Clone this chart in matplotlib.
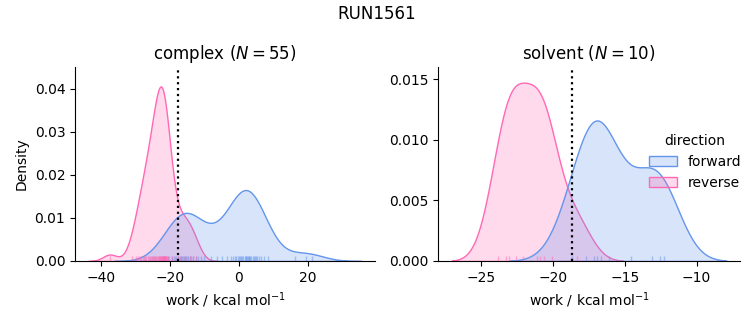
import numpy as np
import pandas as pd
import matplotlib
matplotlib.use("Agg")
import matplotlib.pyplot as plt
import seaborn as sns
from matplotlib.patches import Patch
from matplotlib.colors import to_rgba

# ---- data (work values, kcal/mol) ----
complex_forward = [
    -22.0, -20.5, -19.5, -18.8, -18.2, -17.7, -17.2, -16.8, -16.4, -16.0,
    -15.6, -15.2, -14.8, -14.3, -13.8, -13.2, -12.5, -11.8, -11.0, -10.0,
    -8.0, -6.4, -5.0, -3.5,
    -2.2, -1.6, -1.1, -0.7, -0.3, 0.1, 0.4, 0.7, 1.0, 1.3,
    1.8, 2.0, 2.2, 2.4, 2.6, 2.9, 3.1, 3.4, 3.7,
    4.0, 4.3, 4.6, 5.0, 5.4, 5.9, 6.5, 7.3, 8.5,
    16.3, 19.4, 21.4,
]
complex_reverse = [
    -37.4, -31.0, -29.9, -29.2, -28.7, -28.3, -27.9, -27.5, -27.2, -26.9,
    -26.5, -26.2, -25.9, -25.6, -25.3, -25.0, -24.8, -24.6, -24.4, -24.2,
    -23.9, -23.7, -23.5, -23.3, -23.1, -22.9, -22.8, -22.6, -22.5, -22.4,
    -22.3, -22.1, -22.0, -21.8, -21.7, -21.6, -21.5, -21.4, -21.3, -21.2,
    -21.1, -21.0, -20.8, -20.6, -20.4, -19.3, -18.4, -17.6, -17.0, -16.3,
    -15.6, -15.0, -14.2, -13.3, -12.4,
]
solvent_forward = [-18.7, -17.72, -17.13, -16.97, -16.7, -16.1, -14.55, -13.1, -12.58, -12.27]
solvent_reverse = [-23.87, -23.26, -23.05, -22.6, -22.1, -21.1, -20.9, -20.65, -20.07, -18.35]

phases = ["complex", "solvent"]
directions = ["forward", "reverse"]
free_energy = {"complex": -17.6, "solvent": -18.7}
x_ticks = {"complex": [-40, -20, 0, 20], "solvent": [-25, -20, -15, -10]}
y_ticks = {"complex": [0.00, 0.01, 0.02, 0.03, 0.04],
           "solvent": [0.000, 0.005, 0.010, 0.015]}
y_lims = {"complex": 0.045, "solvent": 0.016}
colors = {"forward": "cornflowerblue", "reverse": "hotpink"}

rows = []
for ph, d, vals in [("complex", "forward", complex_forward),
                    ("complex", "reverse", complex_reverse),
                    ("solvent", "forward", solvent_forward),
                    ("solvent", "reverse", solvent_reverse)]:
    for v in vals:
        rows.append({"work": v, "direction": d, "phase": ph})
df = pd.DataFrame(rows)

g = sns.displot(data=df, x="work", hue="direction", col="phase", kind="kde",
                fill=True, rug=True, palette=colors, hue_order=directions,
                col_order=phases, common_norm=True, legend=False,
                rug_kws=dict(alpha=0.5),
                facet_kws=dict(sharex=False, sharey=False))
fig = g.figure
fig.set_size_inches(7.53, 3.25)
fig.set_dpi(100)

counts = {"complex": len(complex_forward), "solvent": len(solvent_forward)}
positions = {"complex": [75 / 753, 64 / 325, 300 / 753, 194 / 325],
             "solvent": [438 / 753, 64 / 325, 302 / 753, 194 / 325]}
for ax, ph in zip(g.axes.flat, phases):
    ax.set_position(positions[ph])
    ax.axvline(free_energy[ph], color="k", linestyle=":", linewidth=1.6)
    ax.set_title(f"{ph} ($N={counts[ph]}$)", fontsize=12)
    ax.set_xlabel(r"work / kcal mol$^{-1}$")
    ax.set_xticks(x_ticks[ph])
    ax.set_yticks(y_ticks[ph])
    ax.set_ylim(0, y_lims[ph])
g.axes.flat[0].set_ylabel("Density")
g.axes.flat[1].set_ylabel("")
g.axes.flat[1].yaxis.set_major_formatter(matplotlib.ticker.FormatStrFormatter("%.3f"))
g.axes.flat[0].yaxis.set_major_formatter(matplotlib.ticker.FormatStrFormatter("%.2f"))

handles = [Patch(facecolor=to_rgba(colors[d], 0.25), edgecolor=colors[d], label=d)
           for d in directions]
fig.legend(handles=handles, title="direction", frameon=False,
           loc="center", bbox_to_anchor=(695 / 753, 1 - 162 / 325), fontsize=10)

fig.suptitle("RUN1561", fontsize=12, y=0.985)
fig.savefig("out.png", dpi=100)
